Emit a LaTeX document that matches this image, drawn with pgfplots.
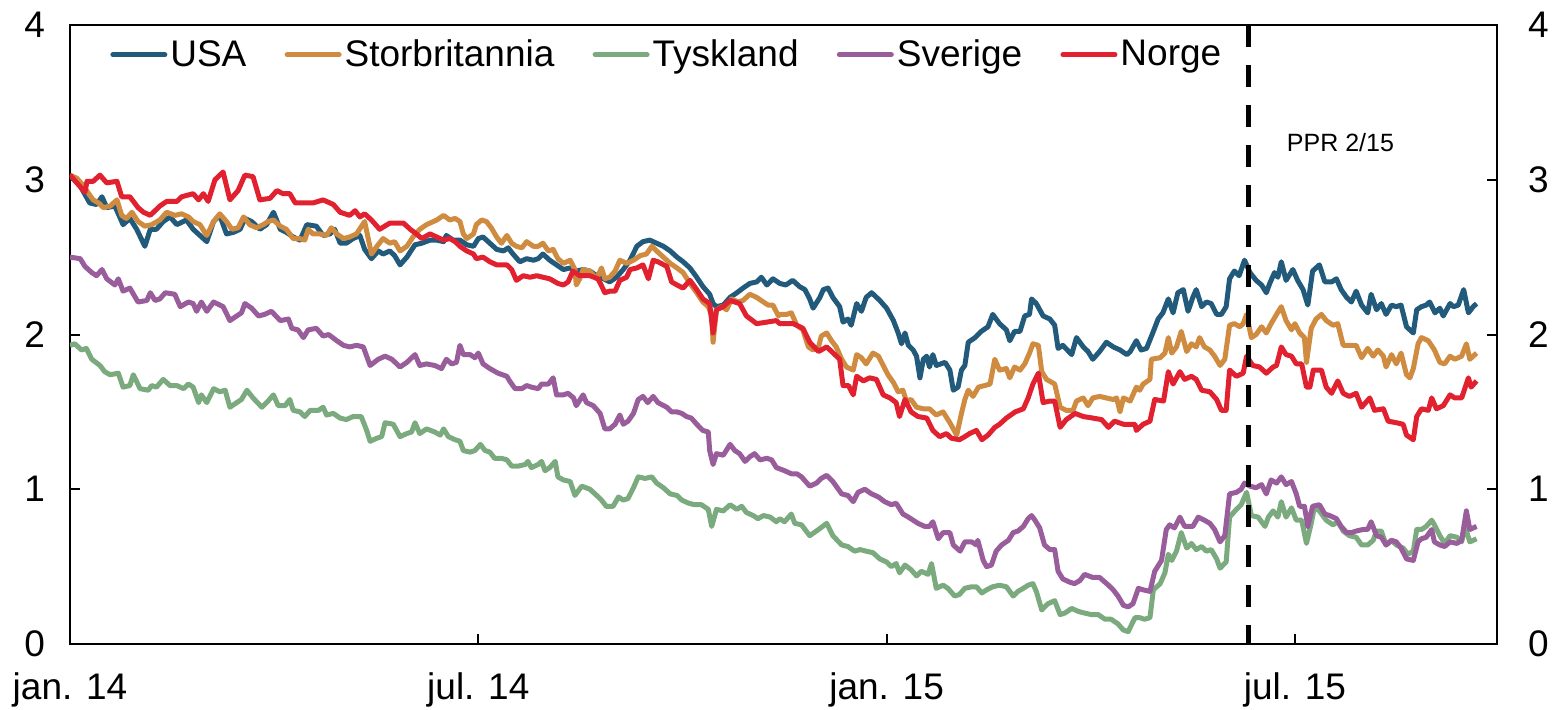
\documentclass[border=0pt]{standalone}
\usepackage{fontspec}
\setmainfont{Liberation Sans}
\usepackage{pgfplots}
\pgfplotsset{compat=1.18}
\definecolor{cusa}{HTML}{225A7B}
\definecolor{cuk}{HTML}{CF8B40}
\definecolor{cde}{HTML}{7BAA7F}
\definecolor{cse}{HTML}{985D9A}
\definecolor{cno}{HTML}{E1212F}
\begin{document}
\begin{tikzpicture}
\path[use as bounding box] (-35pt,-32.5pt) rectangle (741.5pt,322pt);
\begin{axis}[
  at={(0,0)}, anchor=south west, scale only axis,
  width=713.5pt, height=309.5pt,
  xmin=0, xmax=20.97, ymin=0, ymax=4,
  xtick={0,6,12,18}, xticklabels={jan. 14, jul. 14, jan. 15, jul. 15},
  ytick={0,1,2,3,4},
  xtick pos=left, ytick pos=both, yticklabel pos=left,
  tick align=inside, major tick length=5pt,
  every tick/.style={black, line width=1pt},
  axis line style={line width=1.1pt},
  /pgf/number format/assume math mode=true,
  tick label style={font=\fontsize{18.5}{22}\selectfont},
  x tick label style={yshift=-11pt},
  y tick label style={xshift=-9pt},
  legend columns=-1,
  legend style={at={(rel axis cs:0.028,0.952)}, anchor=west, draw=none, fill=none,
    inner sep=0pt, font=\fontsize{18.5}{22}\selectfont,
    nodes={inner xsep=1.5pt},
    /tikz/every even column/.append style={column sep=17.6pt}},
  legend image code/.code={\draw[#1, line width=2.5pt, line cap=round] (0pt,0pt) -- (26pt,0pt);},
  every axis plot/.append style={line width=2.5pt, line join=round},
]
\addplot[cusa] coordinates {(0,3.03)(0.15,2.96)(0.29,2.85)(0.39,2.84)(0.47,2.89)(0.54,2.82)(0.66,2.83)(0.73,2.76)(0.78,2.71)(0.88,2.75)(0.98,2.68)(1.10,2.57)(1.18,2.68)(1.27,2.68)(1.37,2.73)(1.47,2.76)(1.57,2.71)(1.71,2.74)(1.81,2.68)(1.91,2.64)(2.01,2.60)(2.11,2.73)(2.20,2.77)(2.30,2.65)(2.40,2.66)(2.50,2.68)(2.57,2.75)(2.67,2.73)(2.79,2.68)(2.89,2.71)(2.99,2.79)(3.09,2.68)(3.18,2.66)(3.28,2.63)(3.38,2.61)(3.48,2.71)(3.62,2.70)(3.72,2.64)(3.82,2.65)(3.89,2.68)(3.97,2.59)(4.06,2.59)(4.16,2.62)(4.26,2.64)(4.33,2.55)(4.43,2.49)(4.53,2.54)(4.60,2.52)(4.70,2.54)(4.77,2.51)(4.85,2.45)(4.95,2.50)(5.07,2.58)(5.17,2.59)(5.29,2.61)(5.39,2.61)(5.49,2.60)(5.53,2.64)(5.63,2.61)(5.73,2.61)(5.83,2.58)(5.93,2.57)(6.00,2.62)(6.07,2.63)(6.17,2.59)(6.27,2.55)(6.37,2.54)(6.44,2.56)(6.51,2.52)(6.61,2.47)(6.71,2.49)(6.81,2.48)(6.88,2.49)(6.95,2.52)(7.05,2.48)(7.15,2.45)(7.25,2.42)(7.35,2.43)(7.44,2.41)(7.54,2.42)(7.64,2.41)(7.74,2.38)(7.84,2.36)(7.93,2.34)(8.03,2.37)(8.13,2.42)(8.23,2.48)(8.33,2.57)(8.42,2.60)(8.52,2.61)(8.62,2.59)(8.72,2.57)(8.82,2.54)(8.92,2.50)(9.01,2.47)(9.11,2.43)(9.21,2.37)(9.30,2.31)(9.40,2.26)(9.45,2.20)(9.50,2.18)(9.60,2.19)(9.70,2.24)(9.80,2.27)(9.89,2.30)(9.99,2.33)(10.09,2.34)(10.16,2.37)(10.24,2.32)(10.33,2.36)(10.43,2.33)(10.52,2.32)(10.62,2.35)(10.72,2.31)(10.80,2.29)(10.87,2.23)(10.92,2.17)(11.02,2.24)(11.07,2.29)(11.14,2.30)(11.21,2.24)(11.31,2.18)(11.36,2.08)(11.43,2.10)(11.48,2.06)(11.56,2.20)(11.63,2.15)(11.70,2.24)(11.78,2.27)(11.90,2.22)(12.00,2.17)(12.10,2.09)(12.17,2.01)(12.22,1.94)(12.27,2.01)(12.32,1.93)(12.39,1.90)(12.44,1.86)(12.49,1.72)(12.54,1.84)(12.59,1.86)(12.63,1.79)(12.68,1.87)(12.73,1.80)(12.86,1.82)(12.93,1.77)(12.98,1.64)(13.05,1.66)(13.10,1.77)(13.15,1.80)(13.20,1.95)(13.30,1.98)(13.39,2.02)(13.49,2.05)(13.56,2.13)(13.66,2.07)(13.76,2.03)(13.81,1.96)(13.88,2.02)(13.96,2.02)(14.03,2.12)(14.10,2.13)(14.13,2.23)(14.20,2.20)(14.30,2.12)(14.40,2.10)(14.47,2.06)(14.52,1.91)(14.59,1.93)(14.72,1.87)(14.79,1.98)(14.89,1.92)(14.96,1.89)(15.03,1.84)(15.13,1.89)(15.23,1.95)(15.33,1.92)(15.43,1.90)(15.53,1.87)(15.58,1.89)(15.67,1.96)(15.74,1.90)(15.82,1.91)(15.92,2.02)(15.99,2.10)(16.06,2.14)(16.14,2.23)(16.21,2.14)(16.28,2.27)(16.36,2.29)(16.43,2.15)(16.50,2.24)(16.55,2.29)(16.63,2.18)(16.70,2.21)(16.77,2.20)(16.85,2.13)(16.92,2.13)(16.99,2.18)(17.04,2.36)(17.11,2.41)(17.18,2.38)(17.26,2.48)(17.34,2.40)(17.43,2.35)(17.51,2.32)(17.58,2.27)(17.63,2.33)(17.70,2.40)(17.75,2.37)(17.80,2.47)(17.87,2.35)(17.97,2.42)(18.04,2.35)(18.12,2.29)(18.19,2.19)(18.26,2.41)(18.36,2.45)(18.44,2.34)(18.54,2.34)(18.61,2.36)(18.68,2.29)(18.76,2.24)(18.83,2.21)(18.90,2.28)(18.98,2.19)(19.07,2.14)(19.12,2.26)(19.20,2.16)(19.27,2.20)(19.34,2.13)(19.42,2.19)(19.49,2.18)(19.56,2.19)(19.64,2.05)(19.74,2.01)(19.79,2.16)(19.86,2.18)(19.93,2.19)(19.98,2.21)(20.06,2.14)(20.13,2.17)(20.18,2.12)(20.28,2.20)(20.33,2.18)(20.40,2.19)(20.48,2.29)(20.55,2.14)(20.62,2.18)(20.67,2.20)};
\addlegendentry{USA}
\addplot[cuk] coordinates {(0,3.03)(0.10,3.01)(0.20,2.96)(0.29,2.90)(0.34,2.87)(0.42,2.85)(0.49,2.82)(0.59,2.83)(0.69,2.87)(0.76,2.77)(0.83,2.75)(0.91,2.79)(1.00,2.73)(1.10,2.70)(1.20,2.71)(1.32,2.74)(1.42,2.79)(1.54,2.77)(1.64,2.78)(1.74,2.76)(1.81,2.73)(1.91,2.71)(2.01,2.64)(2.11,2.73)(2.20,2.78)(2.30,2.73)(2.38,2.68)(2.47,2.69)(2.55,2.76)(2.64,2.71)(2.74,2.69)(2.84,2.71)(2.91,2.73)(2.99,2.74)(3.09,2.70)(3.18,2.68)(3.28,2.62)(3.38,2.62)(3.45,2.61)(3.50,2.68)(3.57,2.65)(3.67,2.65)(3.77,2.64)(3.84,2.69)(3.92,2.65)(4.02,2.62)(4.11,2.63)(4.21,2.65)(4.33,2.73)(4.43,2.52)(4.51,2.57)(4.60,2.62)(4.70,2.59)(4.77,2.60)(4.85,2.54)(4.95,2.57)(5.04,2.63)(5.14,2.68)(5.24,2.71)(5.29,2.72)(5.39,2.74)(5.49,2.77)(5.58,2.74)(5.66,2.75)(5.73,2.73)(5.78,2.65)(5.83,2.62)(5.93,2.65)(5.97,2.71)(6.05,2.74)(6.12,2.73)(6.19,2.69)(6.27,2.63)(6.34,2.59)(6.42,2.64)(6.49,2.59)(6.56,2.57)(6.64,2.56)(6.71,2.60)(6.81,2.57)(6.88,2.57)(6.95,2.59)(7.03,2.54)(7.10,2.55)(7.17,2.49)(7.25,2.46)(7.35,2.48)(7.42,2.42)(7.44,2.32)(7.49,2.36)(7.54,2.42)(7.64,2.41)(7.74,2.36)(7.81,2.43)(7.86,2.36)(7.93,2.37)(8.01,2.41)(8.08,2.48)(8.18,2.46)(8.28,2.48)(8.38,2.51)(8.47,2.52)(8.55,2.57)(8.62,2.54)(8.72,2.50)(8.82,2.46)(8.92,2.43)(9.01,2.40)(9.11,2.33)(9.21,2.27)(9.30,2.21)(9.38,2.18)(9.43,2.12)(9.45,1.95)(9.50,2.16)(9.58,2.18)(9.65,2.16)(9.72,2.23)(9.82,2.21)(9.89,2.22)(9.99,2.26)(10.09,2.24)(10.19,2.21)(10.26,2.19)(10.33,2.19)(10.41,2.12)(10.43,2.13)(10.53,2.13)(10.60,2.14)(10.68,2.06)(10.77,2.03)(10.85,1.92)(10.92,1.90)(11.00,1.92)(11.04,1.99)(11.12,2.01)(11.19,1.96)(11.26,1.92)(11.34,1.84)(11.41,1.79)(11.51,1.77)(11.56,1.87)(11.63,1.85)(11.70,1.81)(11.80,1.88)(11.88,1.86)(11.95,1.80)(12.02,1.74)(12.10,1.69)(12.17,1.63)(12.24,1.64)(12.29,1.57)(12.36,1.58)(12.44,1.53)(12.54,1.52)(12.63,1.52)(12.73,1.48)(12.83,1.50)(12.93,1.43)(13.03,1.35)(13.10,1.49)(13.15,1.58)(13.20,1.64)(13.27,1.60)(13.35,1.66)(13.44,1.67)(13.52,1.68)(13.59,1.84)(13.66,1.77)(13.76,1.78)(13.81,1.72)(13.88,1.79)(13.96,1.77)(14.03,1.81)(14.10,1.88)(14.15,1.94)(14.23,1.93)(14.28,1.76)(14.35,1.71)(14.47,1.68)(14.55,1.53)(14.64,1.51)(14.74,1.51)(14.79,1.57)(14.89,1.59)(14.96,1.54)(15.03,1.59)(15.13,1.60)(15.23,1.59)(15.33,1.58)(15.38,1.59)(15.43,1.50)(15.48,1.59)(15.58,1.57)(15.67,1.66)(15.72,1.64)(15.77,1.68)(15.87,1.71)(15.89,1.84)(16.02,1.85)(16.09,1.88)(16.14,1.98)(16.19,1.88)(16.26,1.92)(16.33,2.02)(16.41,1.89)(16.48,1.94)(16.55,1.92)(16.60,1.98)(16.67,1.92)(16.75,1.90)(16.82,1.86)(16.90,1.80)(16.97,1.84)(17.04,2.06)(17.11,2.07)(17.19,2.05)(17.24,2.07)(17.29,2.13)(17.36,1.98)(17.43,2.00)(17.51,2.05)(17.58,2.01)(17.65,2.07)(17.73,2.13)(17.80,2.18)(17.87,2.09)(17.95,2.03)(18.00,2.07)(18.07,2.01)(18.14,1.98)(18.17,1.82)(18.24,2.04)(18.31,2.10)(18.39,2.13)(18.46,2.09)(18.56,2.06)(18.63,2.07)(18.71,1.93)(18.80,1.93)(18.90,1.93)(18.98,1.85)(19.07,1.91)(19.15,1.86)(19.22,1.90)(19.30,1.86)(19.34,1.79)(19.42,1.87)(19.49,1.81)(19.56,1.88)(19.64,1.74)(19.69,1.72)(19.74,1.78)(19.81,1.94)(19.86,1.98)(19.96,1.96)(20.05,1.90)(20.13,1.82)(20.20,1.81)(20.28,1.86)(20.35,1.84)(20.45,1.86)(20.52,1.94)(20.57,1.84)(20.67,1.88)};
\addlegendentry{Storbritannia}
\addplot[cde] coordinates {(0,1.93)(0.07,1.94)(0.17,1.90)(0.24,1.91)(0.32,1.84)(0.44,1.80)(0.51,1.76)(0.59,1.74)(0.71,1.75)(0.78,1.66)(0.88,1.67)(0.93,1.74)(1.03,1.65)(1.15,1.64)(1.20,1.67)(1.27,1.66)(1.37,1.71)(1.47,1.67)(1.57,1.67)(1.67,1.65)(1.74,1.68)(1.81,1.66)(1.89,1.56)(1.93,1.61)(2.01,1.56)(2.11,1.65)(2.20,1.63)(2.28,1.64)(2.35,1.53)(2.45,1.56)(2.52,1.58)(2.60,1.64)(2.69,1.59)(2.82,1.53)(2.91,1.57)(2.99,1.61)(3.06,1.54)(3.16,1.54)(3.23,1.58)(3.28,1.51)(3.38,1.50)(3.45,1.47)(3.53,1.51)(3.65,1.51)(3.72,1.53)(3.77,1.48)(3.87,1.49)(3.97,1.46)(4.06,1.45)(4.16,1.47)(4.28,1.47)(4.36,1.38)(4.41,1.31)(4.51,1.33)(4.58,1.34)(4.63,1.43)(4.75,1.42)(4.85,1.34)(4.95,1.36)(5.02,1.37)(5.07,1.43)(5.14,1.36)(5.24,1.39)(5.36,1.37)(5.44,1.35)(5.49,1.39)(5.56,1.34)(5.66,1.32)(5.73,1.31)(5.78,1.25)(5.88,1.24)(5.95,1.25)(6.03,1.29)(6.10,1.25)(6.17,1.24)(6.24,1.20)(6.34,1.20)(6.42,1.19)(6.49,1.15)(6.59,1.15)(6.69,1.16)(6.73,1.18)(6.78,1.14)(6.88,1.16)(6.93,1.18)(6.98,1.12)(7.05,1.14)(7.13,1.18)(7.17,1.08)(7.25,1.06)(7.35,1.05)(7.42,0.96)(7.52,1.02)(7.64,1.00)(7.74,0.96)(7.81,0.93)(7.88,0.89)(7.98,0.89)(8.06,0.95)(8.13,0.93)(8.20,0.94)(8.28,1.01)(8.35,1.08)(8.45,1.07)(8.55,1.08)(8.62,1.04)(8.72,1.01)(8.82,0.97)(8.92,0.96)(8.99,0.93)(9.09,0.91)(9.18,0.90)(9.28,0.90)(9.38,0.87)(9.43,0.76)(9.50,0.87)(9.60,0.86)(9.70,0.90)(9.80,0.87)(9.87,0.89)(9.94,0.85)(10.04,0.83)(10.11,0.81)(10.19,0.83)(10.29,0.82)(10.38,0.79)(10.43,0.81)(10.50,0.79)(10.60,0.84)(10.65,0.78)(10.75,0.77)(10.87,0.70)(11.00,0.74)(11.12,0.78)(11.21,0.70)(11.34,0.64)(11.43,0.63)(11.53,0.60)(11.61,0.61)(11.70,0.60)(11.80,0.59)(11.90,0.55)(12.00,0.53)(12.07,0.50)(12.14,0.52)(12.19,0.46)(12.27,0.51)(12.36,0.48)(12.44,0.44)(12.51,0.47)(12.61,0.45)(12.66,0.52)(12.73,0.36)(12.83,0.38)(12.90,0.36)(13.00,0.31)(13.07,0.32)(13.15,0.36)(13.25,0.37)(13.32,0.37)(13.40,0.33)(13.47,0.35)(13.56,0.37)(13.66,0.38)(13.76,0.37)(13.86,0.31)(13.93,0.34)(14.01,0.36)(14.08,0.38)(14.15,0.39)(14.20,0.34)(14.28,0.22)(14.37,0.26)(14.47,0.28)(14.55,0.19)(14.62,0.20)(14.72,0.23)(14.82,0.21)(14.91,0.20)(15.01,0.19)(15.11,0.19)(15.21,0.16)(15.30,0.16)(15.40,0.13)(15.48,0.09)(15.55,0.08)(15.65,0.17)(15.72,0.17)(15.79,0.16)(15.87,0.17)(15.92,0.35)(16.02,0.39)(16.09,0.46)(16.14,0.58)(16.19,0.54)(16.26,0.60)(16.33,0.72)(16.41,0.62)(16.48,0.65)(16.55,0.61)(16.63,0.63)(16.70,0.60)(16.77,0.61)(16.85,0.55)(16.90,0.49)(16.99,0.53)(17.04,0.82)(17.14,0.87)(17.21,0.90)(17.29,0.98)(17.36,0.83)(17.46,0.82)(17.56,0.76)(17.61,0.82)(17.68,0.86)(17.75,0.82)(17.80,0.92)(17.87,0.82)(17.95,0.88)(18.02,0.80)(18.10,0.80)(18.17,0.65)(18.24,0.78)(18.29,0.89)(18.36,0.86)(18.46,0.80)(18.56,0.77)(18.63,0.79)(18.71,0.73)(18.80,0.70)(18.90,0.69)(18.98,0.64)(19.07,0.64)(19.15,0.67)(19.20,0.73)(19.27,0.73)(19.34,0.64)(19.42,0.67)(19.49,0.64)(19.59,0.62)(19.66,0.58)(19.74,0.60)(19.79,0.74)(19.86,0.74)(19.93,0.76)(20.01,0.80)(20.05,0.77)(20.13,0.70)(20.20,0.65)(20.28,0.70)(20.38,0.69)(20.45,0.66)(20.50,0.76)(20.57,0.66)(20.67,0.68)};
\addlegendentry{Tyskland}
\addplot[cse] coordinates {(0,2.50)(0.15,2.49)(0.22,2.44)(0.32,2.40)(0.39,2.38)(0.47,2.42)(0.54,2.36)(0.66,2.32)(0.71,2.36)(0.78,2.28)(0.88,2.30)(1.00,2.21)(1.13,2.22)(1.18,2.27)(1.25,2.22)(1.32,2.23)(1.40,2.27)(1.54,2.26)(1.62,2.18)(1.74,2.21)(1.81,2.20)(1.86,2.15)(1.93,2.21)(2.01,2.15)(2.11,2.21)(2.25,2.18)(2.35,2.09)(2.45,2.12)(2.52,2.14)(2.57,2.20)(2.67,2.17)(2.77,2.12)(2.86,2.13)(2.96,2.15)(3.09,2.09)(3.21,2.10)(3.26,2.04)(3.35,2.03)(3.43,1.98)(3.50,2.03)(3.62,2.04)(3.72,1.99)(3.80,2.00)(3.92,1.96)(4.02,1.93)(4.11,1.92)(4.21,1.93)(4.31,1.92)(4.41,1.80)(4.53,1.84)(4.63,1.86)(4.73,1.84)(4.85,1.79)(4.95,1.82)(5.07,1.87)(5.14,1.80)(5.24,1.81)(5.36,1.80)(5.46,1.78)(5.53,1.84)(5.61,1.81)(5.68,1.82)(5.73,1.93)(5.78,1.87)(5.88,1.87)(5.95,1.85)(6.00,1.88)(6.07,1.81)(6.17,1.78)(6.29,1.75)(6.42,1.73)(6.46,1.70)(6.54,1.65)(6.64,1.65)(6.71,1.67)(6.78,1.66)(6.88,1.65)(6.93,1.68)(7.03,1.68)(7.10,1.72)(7.15,1.61)(7.25,1.61)(7.32,1.62)(7.40,1.59)(7.44,1.54)(7.54,1.61)(7.59,1.56)(7.69,1.54)(7.79,1.49)(7.86,1.39)(7.93,1.39)(8.01,1.42)(8.08,1.48)(8.13,1.42)(8.20,1.44)(8.28,1.49)(8.35,1.58)(8.42,1.60)(8.49,1.56)(8.57,1.60)(8.64,1.56)(8.77,1.53)(8.84,1.50)(8.92,1.50)(8.99,1.49)(9.06,1.47)(9.13,1.46)(9.21,1.42)(9.30,1.38)(9.38,1.37)(9.40,1.25)(9.45,1.16)(9.50,1.23)(9.60,1.22)(9.70,1.29)(9.77,1.25)(9.84,1.23)(9.92,1.18)(9.99,1.21)(10.06,1.23)(10.14,1.19)(10.24,1.20)(10.31,1.19)(10.38,1.14)(10.50,1.12)(10.60,1.10)(10.68,1.10)(10.75,1.08)(10.87,1.02)(10.97,1.04)(11.04,1.07)(11.12,1.09)(11.21,1.05)(11.34,0.97)(11.43,0.96)(11.51,0.92)(11.58,0.98)(11.68,1.00)(11.78,0.97)(11.88,0.95)(11.97,0.92)(12.07,0.90)(12.14,0.91)(12.24,0.84)(12.32,0.82)(12.39,0.80)(12.46,0.78)(12.56,0.76)(12.63,0.76)(12.68,0.79)(12.76,0.68)(12.83,0.72)(12.93,0.72)(12.98,0.64)(13.08,0.60)(13.15,0.66)(13.25,0.66)(13.32,0.64)(13.34,0.67)(13.42,0.54)(13.47,0.50)(13.54,0.51)(13.61,0.60)(13.69,0.64)(13.79,0.67)(13.86,0.72)(13.93,0.73)(14.01,0.76)(14.08,0.81)(14.13,0.83)(14.18,0.80)(14.25,0.75)(14.32,0.64)(14.40,0.61)(14.47,0.61)(14.52,0.47)(14.59,0.42)(14.69,0.40)(14.76,0.39)(14.84,0.41)(14.91,0.45)(15.03,0.43)(15.13,0.43)(15.26,0.38)(15.33,0.35)(15.40,0.31)(15.48,0.25)(15.55,0.24)(15.62,0.26)(15.70,0.36)(15.77,0.35)(15.87,0.34)(15.94,0.47)(16.04,0.54)(16.11,0.74)(16.16,0.77)(16.23,0.75)(16.31,0.82)(16.38,0.76)(16.50,0.76)(16.58,0.82)(16.67,0.80)(16.75,0.78)(16.82,0.74)(16.90,0.66)(16.97,0.70)(17.04,0.97)(17.14,0.98)(17.21,1.00)(17.26,1.04)(17.34,1.02)(17.43,1.01)(17.51,1.03)(17.58,0.97)(17.65,1.06)(17.73,1.04)(17.80,1.08)(17.87,1.03)(17.95,1.05)(18.02,0.97)(18.07,0.89)(18.14,0.89)(18.19,0.76)(18.26,0.89)(18.36,0.90)(18.44,0.84)(18.51,0.83)(18.61,0.81)(18.68,0.76)(18.76,0.72)(18.83,0.72)(18.90,0.73)(19.00,0.74)(19.07,0.74)(19.12,0.79)(19.20,0.70)(19.27,0.69)(19.34,0.64)(19.42,0.67)(19.49,0.66)(19.56,0.62)(19.64,0.55)(19.74,0.54)(19.81,0.66)(19.86,0.68)(19.93,0.69)(20.01,0.74)(20.05,0.66)(20.13,0.64)(20.20,0.63)(20.28,0.66)(20.38,0.65)(20.45,0.67)(20.52,0.86)(20.57,0.74)(20.67,0.76)};
\addlegendentry{Sverige}
\addplot[cno] coordinates {(0,3.03)(0.22,2.92)(0.25,2.99)(0.34,2.99)(0.44,3.03)(0.54,2.98)(0.69,2.99)(0.76,2.89)(0.88,2.89)(1.00,2.82)(1.08,2.79)(1.18,2.77)(1.32,2.83)(1.42,2.86)(1.57,2.86)(1.64,2.89)(1.81,2.91)(1.89,2.87)(1.96,2.91)(2.03,2.86)(2.13,3.00)(2.25,3.05)(2.35,2.87)(2.47,2.93)(2.57,3.03)(2.69,3.02)(2.79,2.87)(2.94,2.88)(3.04,2.93)(3.13,2.91)(3.23,2.91)(3.31,2.85)(3.43,2.85)(3.57,2.85)(3.72,2.87)(3.87,2.84)(3.97,2.79)(4.11,2.77)(4.19,2.80)(4.26,2.76)(4.33,2.78)(4.43,2.74)(4.55,2.68)(4.70,2.72)(4.90,2.72)(5.00,2.68)(5.09,2.65)(5.17,2.62)(5.29,2.65)(5.39,2.63)(5.49,2.61)(5.58,2.62)(5.66,2.60)(5.73,2.57)(5.83,2.54)(5.93,2.52)(5.97,2.49)(6.07,2.50)(6.17,2.47)(6.27,2.45)(6.42,2.45)(6.49,2.42)(6.56,2.35)(6.66,2.38)(6.76,2.37)(6.86,2.38)(6.95,2.37)(7.05,2.36)(7.17,2.33)(7.25,2.32)(7.32,2.34)(7.39,2.41)(7.49,2.38)(7.64,2.38)(7.76,2.36)(7.86,2.27)(7.93,2.28)(8.01,2.28)(8.08,2.35)(8.18,2.37)(8.23,2.42)(8.33,2.43)(8.42,2.45)(8.50,2.36)(8.57,2.48)(8.64,2.47)(8.77,2.44)(8.84,2.34)(8.92,2.32)(9.01,2.30)(9.11,2.35)(9.21,2.29)(9.30,2.23)(9.40,2.20)(9.45,2.01)(9.50,2.16)(9.60,2.18)(9.70,2.22)(9.84,2.20)(9.94,2.12)(10.09,2.07)(10.24,2.08)(10.38,2.09)(10.43,2.07)(10.63,2.07)(10.77,2.04)(10.87,1.95)(11.00,1.89)(11.12,1.92)(11.24,1.87)(11.31,1.84)(11.36,1.67)(11.44,1.67)(11.51,1.61)(11.56,1.73)(11.66,1.70)(11.75,1.72)(11.85,1.71)(11.95,1.61)(12.05,1.59)(12.14,1.56)(12.19,1.47)(12.27,1.58)(12.36,1.50)(12.46,1.47)(12.59,1.46)(12.68,1.38)(12.78,1.34)(12.88,1.36)(12.95,1.33)(13.07,1.32)(13.15,1.34)(13.22,1.36)(13.32,1.38)(13.40,1.32)(13.49,1.35)(13.59,1.40)(13.66,1.42)(13.76,1.46)(13.89,1.50)(14.01,1.52)(14.08,1.59)(14.15,1.68)(14.23,1.75)(14.30,1.56)(14.40,1.57)(14.47,1.57)(14.55,1.40)(14.64,1.45)(14.77,1.49)(14.89,1.47)(15.03,1.46)(15.16,1.45)(15.26,1.40)(15.35,1.44)(15.48,1.42)(15.58,1.42)(15.65,1.42)(15.67,1.38)(15.77,1.42)(15.87,1.44)(15.94,1.58)(16.07,1.57)(16.14,1.76)(16.21,1.68)(16.31,1.76)(16.38,1.71)(16.48,1.73)(16.55,1.71)(16.63,1.64)(16.75,1.63)(16.85,1.58)(16.92,1.51)(16.99,1.51)(17.04,1.77)(17.14,1.73)(17.24,1.75)(17.29,1.86)(17.38,1.80)(17.48,1.79)(17.58,1.75)(17.68,1.79)(17.73,1.80)(17.80,1.92)(17.87,1.87)(17.95,1.86)(18.02,1.81)(18.10,1.81)(18.17,1.66)(18.22,1.66)(18.27,1.77)(18.39,1.77)(18.46,1.66)(18.54,1.62)(18.63,1.70)(18.71,1.62)(18.80,1.60)(18.90,1.62)(18.98,1.53)(19.10,1.59)(19.17,1.51)(19.30,1.52)(19.37,1.44)(19.49,1.43)(19.59,1.42)(19.64,1.35)(19.74,1.32)(19.79,1.47)(19.86,1.52)(19.96,1.51)(20.01,1.59)(20.08,1.52)(20.18,1.54)(20.28,1.61)(20.35,1.59)(20.45,1.59)(20.55,1.72)(20.59,1.66)(20.67,1.70)};
\addlegendentry{Norge}
\addplot[black, line width=2.5pt, dash pattern=on 11pt off 9pt, forget plot] coordinates {(17.32,4)(17.32,0)};
\node[font=\fontsize{12.5}{15}\selectfont] at (axis cs:18.67,3.24) {PPR 2/15};
\end{axis}
\begin{axis}[
  at={(0,0)}, anchor=south west, scale only axis,
  width=713.5pt, height=309.5pt,
  xmin=0, xmax=20.97, ymin=0, ymax=4,
  hide x axis, axis y line*=right, y axis line style={draw=none},
  ytick={0,1,2,3,4}, major tick length=0pt,
  /pgf/number format/assume math mode=true,
  tick label style={font=\fontsize{18.5}{22}\selectfont},
  y tick label style={xshift=12pt},
]
\addplot[draw=none] coordinates {(0,0)};
\end{axis}
\end{tikzpicture}
\end{document}
